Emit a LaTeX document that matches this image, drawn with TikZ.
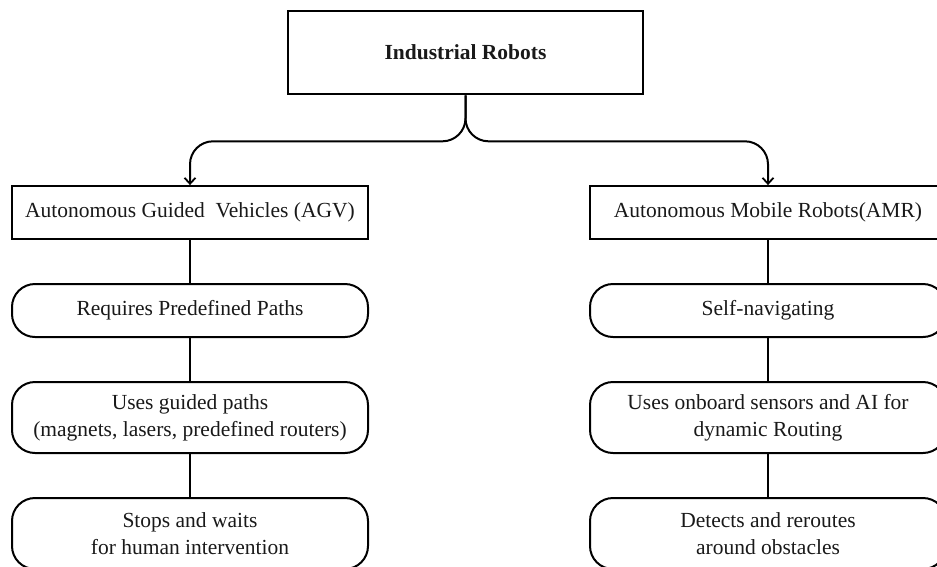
\documentclass[tikz,border=0pt]{standalone}
\usepackage{fontspec}
\setmainfont{Liberation Serif}
\usetikzlibrary{arrows.meta,calc}
\begin{document}
\begin{tikzpicture}[x=1pt,y=-1pt,
  txt/.style={font=\fontsize{21.5}{27}\selectfont, align=center, inner sep=0pt, text=black!90},
  titlebox/.style={txt, draw, line width=2.6pt, minimum width=355pt, minimum height=83pt, font=\fontsize{21.5}{27}\selectfont\bfseries},
  plainbox/.style={txt, draw, line width=1.8pt, minimum width=356pt, minimum height=53pt},
  roundbox/.style={txt, draw, line width=2pt, rounded corners=23pt, minimum width=356pt},
  link/.style={line width=2pt},
  branch/.style={link, rounded corners=23pt, -{Straight Barb[length=6pt,width=11pt,line width=1.8pt]}}
]
\useasboundingbox (0,0) rectangle (937,566);
\clip (0,0) rectangle (937,566);

% root
\node[titlebox] (top) at (465.5,52.5) {Industrial Robots};

% the two families
\node[plainbox] (agv) at (190,212.5) {Autonomous Guided\ \ Vehicles (AGV)};
\node[plainbox] (amr) at (768,212.5) {Autonomous Mobile Robots(AMR)};

% AGV column
\node[roundbox, minimum height=53pt] (agv1) at (190,310.5) {Requires Predefined Paths};
\node[roundbox, minimum height=71pt] (agv2) at (190,417.5) {Uses guided paths\\(magnets, lasers, predefined routers)};
\node[roundbox, minimum height=71pt] (agv3) at (190,533.5) {Stops and waits\\for human intervention};

% AMR column
\node[roundbox, minimum height=53pt] (amr1) at (768,310.5) {Self-navigating};
\node[roundbox, minimum height=71pt] (amr2) at (768,417.5) {Uses onboard sensors and AI for\\dynamic Routing};
\node[roundbox, minimum height=71pt] (amr3) at (768,533.5) {Detects and reroutes\\around obstacles};

% split from the root
\coordinate (fork) at ($(top.south)+(0,46)$);
\draw[branch] (top.south) -- (fork) -| (agv.north);
\draw[branch] (top.south) -- (fork) -| (amr.north);

% column links
\draw[link] (agv.south) -- (agv1.north);
\draw[link] (agv1.south) -- (agv2.north);
\draw[link] (agv2.south) -- (agv3.north);
\draw[link] (amr.south) -- (amr1.north);
\draw[link] (amr1.south) -- (amr2.north);
\draw[link] (amr2.south) -- (amr3.north);
\end{tikzpicture}
\end{document}
